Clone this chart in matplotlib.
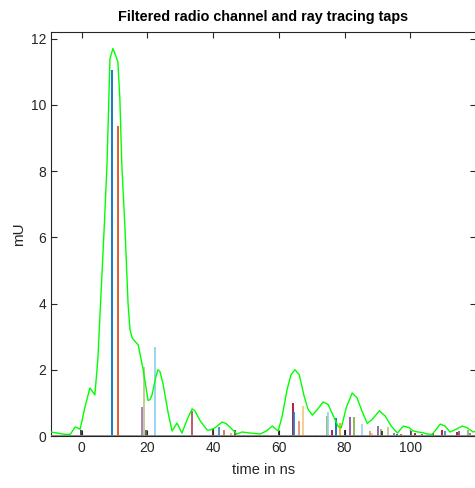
import matplotlib
matplotlib.use("Agg")
import matplotlib.pyplot as plt

plt.rcParams['font.family'] = ['Liberation Sans', 'DejaVu Sans']

# Filtered radio channel (green curve)
t_ns = [-9.4, -8.1, -5.1, -3.5, -2.0, -1.1, -0.5, 1.0, 2.5, 4.0, 4.9, 6.8, 7.7, 8.6, 9.5,
        10.1, 11.0, 11.6, 12.2, 13.2, 14.1, 14.7, 15.4, 16.3, 17.2, 18.7, 20.2, 20.8, 21.4,
        22.6, 23.2, 23.8, 24.7, 26.3, 27.5, 29.0, 30.5, 32.1, 33.6, 34.5, 36.1, 38.2, 39.1,
        40.6, 42.7, 43.9, 45.1, 47.2, 48.8, 51.2, 54.3, 56.2, 58.0, 59.8, 61.0, 62.5, 63.7,
        64.9, 66.2, 67.7, 68.9, 70.2, 71.7, 73.5, 75.0, 76.6, 78.1, 79.0, 80.5, 82.3, 83.8,
        85.3, 86.9, 88.4, 90.6, 92.4, 94.2, 96.1, 97.9, 99.7, 100.9, 102.4, 103.9, 105.1,
        106.7, 109.1, 110.6, 112.1, 113.9, 115.8, 117.3, 119.1, 120.0]
channel_mU = [0.12, 0.1, 0.05, 0.05, 0.27, 0.24, 0.2, 0.88, 1.45, 1.24, 2.3, 6.2, 8.2, 11.4, 11.7,
              11.55, 11.3, 10.2, 8.2, 6.2, 4.0, 3.2, 2.95, 2.85, 2.75, 2.0, 1.07, 1.1, 1.24,
              1.8, 2.0, 1.95, 1.6, 0.7, 0.15, 0.39, 0.09, 0.5, 0.82, 0.75, 0.45, 0.18, 0.18,
              0.25, 0.42, 0.38, 0.27, 0.06, 0.12, 0.09, 0.06, 0.15, 0.3, 0.15, 0.6, 1.4, 1.85,
              2.0, 1.85, 1.2, 0.8, 0.63, 0.8, 1.03, 0.95, 0.6, 0.28, 0.25, 0.85, 1.3, 1.15,
              0.75, 0.38, 0.5, 0.76, 0.6, 0.3, 0.09, 0.3, 0.25, 0.15, 0.12, 0.1, 0.06,
              0.05, 0.36, 0.3, 0.12, 0.2, 0.3, 0.25, 0.12, 0.15]

# Ray tracing taps
tap_ns = [-0.3, 9.2, 11.1, 14.3, 18.3, 19.1, 19.7, 22.2, 33.7, 39.9, 41.9, 43.4, 45.5, 46.5,
          56.3, 59.9, 64.3, 64.6, 66.1, 67.2, 71.0, 74.6, 75.1, 76.2, 77.4, 78.7, 80.2, 81.5,
          82.9, 85.4, 87.6, 88.4, 90.2, 91.2, 91.4, 93.2, 94.9, 96.1, 97.3, 100.3, 101.5,
          103.5, 106.8, 109.7, 110.7, 114.1, 114.9, 117.5, 118.1]
tap_mU = [0.18, 11.05, 9.35, 0.03, 0.88, 2.09, 0.18, 2.7, 0.75, 0.2, 0.28, 0.18, 0.1, 0.18,
          0.03, 0.15, 1.0, 0.73, 0.45, 0.92, 0.03, 0.6, 0.73, 0.18, 0.55, 0.38, 0.18, 0.56,
          0.56, 0.35, 0.15, 0.08, 0.3, 0.2, 0.15, 0.26, 0.1, 0.05, 0.05, 0.15, 0.1,
          0.06, 0.08, 0.18, 0.15, 0.12, 0.16, 0.18, 0.1]
tap_colors = ['#333333', '#0072BD', '#D95319', '#EDB120', '#A07AB0', '#BFC98E', '#555555', '#8FD3F4',
              '#B05060', '#333333', '#3A8FD0', '#E07040', '#F0B040', '#7E2F8E',
              '#8FD3F4', '#222222', '#A2142F', '#1F80D0', '#E8906A', '#F3C98A', '#9E6FB0',
              '#93B860', '#8FD3F4', '#A2142F', '#0072BD', '#F5A623', '#222222', '#8E4FA0',
              '#8AB050', '#9ED8F5', '#E8906A', '#F3C98A', '#8E5FA8', '#93B860', '#333333',
              '#B8C890', '#9E6FB0', '#0072BD', '#D95319', '#555555', '#A2142F',
              '#8E4FA0', '#A2142F', '#A2142F', '#3A8FD0', '#A2142F', '#8E4FA0', '#93B860', '#9E6FB0']

x_ticks = [0, 20, 40, 60, 80, 100, 120]
x_tick_labels = ['0', '20', '40', '60', '80', '100', '']
y_ticks = [0, 2, 4, 6, 8, 10, 12]

fig = plt.figure(figsize=(4.75, 4.88), dpi=100)
ax = fig.add_axes([51 / 475, 1 - 436 / 488, (476 - 51) / 475, (436 - 32) / 488])

ax.vlines(tap_ns, 0, tap_mU, colors=tap_colors, linewidth=1.3, zorder=2)
ax.axhline(0, color='#808080', linewidth=2.0, zorder=3)
ax.plot(t_ns, channel_mU, color='#00FF00', linewidth=1.0, zorder=4)

ax.set_xlim(-9.35, 120)
ax.set_ylim(0, 12.2)
ax.set_xticks(x_ticks)
ax.set_xticklabels(x_tick_labels)
ax.set_yticks(y_ticks)
ax.tick_params(direction='in', top=True, right=True, length=4, width=0.8,
               color='#262626', labelcolor='#262626', labelsize=10)
for s in ax.spines.values():
    s.set_color('#262626')
    s.set_linewidth(0.8)

ax.set_title('Filtered radio channel and ray tracing taps', fontsize=10.4,
             fontweight='bold', color='black', pad=8)
ax.set_xlabel('time in ns', fontsize=10.5, color='#262626', labelpad=6)
ax.set_ylabel('mU', fontsize=11, color='#262626', labelpad=3)

fig.savefig('out.png', dpi=100)
